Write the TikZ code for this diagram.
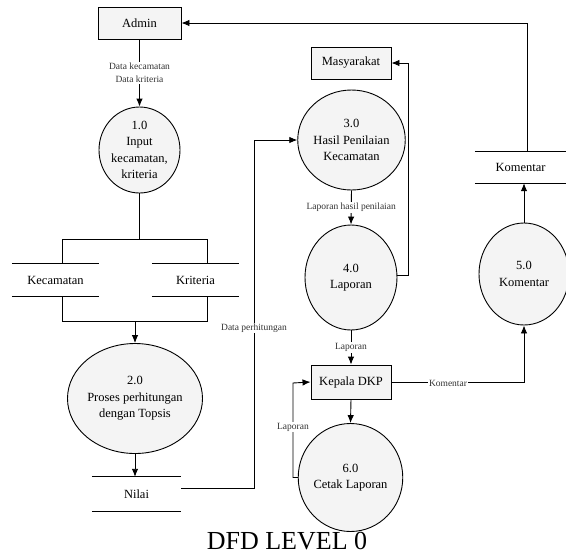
\documentclass[tikz,border=0pt]{standalone}
\usepackage{fontspec}
\setmainfont{Liberation Serif}
\usetikzlibrary{shapes.geometric,arrows.meta}
\begin{document}
\begin{tikzpicture}[x=1pt,y=-1pt,
  every node/.style={inner sep=0pt, font=\fontsize{12.5}{16.5}\selectfont, align=center},
  ent/.style={draw, line width=0.9pt, fill=gray!9, rectangle},
  proc/.style={draw, line width=0.9pt, fill=gray!9, ellipse},
  store/.style={rectangle, minimum height=32pt},
  flow/.style={line width=0.9pt, -{Latex[length=8pt,width=6.5pt]}},
  plain/.style={line width=0.9pt},
  lbl/.style={fill=white, inner sep=1pt, font=\fontsize{9.5}{12}\selectfont, text=black!80}]
\useasboundingbox (0,0) rectangle (566,558);
% entities
\node[ent, minimum width=83pt, minimum height=32pt] (admin) at (139.5,23) {Admin};
\node[ent, minimum width=80pt, minimum height=32pt] (mas) at (351,63) {Masyarakat};
\node[ent, minimum width=80pt, minimum height=34pt] (kep) at (351,382) {Kepala DKP};
% processes
\node[proc, minimum width=81pt, minimum height=86pt] (c1) at (139.5,150) {1.0\\Input\\kecamatan,\\kriteria};
\node[proc, minimum width=98pt, minimum height=110pt] (c2) at (135,398.5) {2.0\\Proses perhitungan\\dengan Topsis};
\node[proc, minimum width=91pt, minimum height=100pt] (c3) at (351.5,140) {3.0\\Hasil Penilaian\\Kecamatan};
\node[proc, minimum width=92pt, minimum height=105pt] (c4) at (351,277.5) {4.0\\Laporan};
\node[proc, minimum width=90pt, minimum height=102pt] (c5) at (524,274) {5.0\\Komentar};
\node[proc, minimum width=89pt, minimum height=108pt] (c6) at (350.5,477.5) {6.0\\Cetak Laporan};
% stores
\node[store, minimum width=87pt] (kec) at (55.5,280) {Kecamatan};
\node[store, minimum width=87pt] (kri) at (195.5,280) {Kriteria};
\node[store, minimum width=89pt, minimum height=34pt] (nil) at (136.5,494) {Nilai};
\node[store, minimum width=91pt, minimum height=31pt] (kom) at (520.5,167.5) {Komentar};
\foreach \s in {kec,kri,nil,kom}{
  \draw[plain] (\s.north west) -- (\s.north east) (\s.south west) -- (\s.south east);
}
% title
\node[font=\fontsize{26}{30}\selectfont] (title) at (287,541) {DFD LEVEL 0};
% flows
\draw[flow] (admin.south) -- node[lbl, pos=0.5, font=\fontsize{9.5}{13}\selectfont] {Data kecamatan\\Data kriteria} (c1.north);
\draw[plain] (c1.south) -- ++(0,46) coordinate (j1);
\draw[plain] ([xshift=7pt]kec.north) |- (j1) -| ([xshift=11.5pt]kri.north);
\draw[plain] ([xshift=7pt]kec.south) -- ++(0,25) coordinate (j2) -| ([xshift=11.5pt]kri.south);
\draw[flow] (j2 -| c2.north) -- (c2.north);
\draw[flow] (c2.south) -- (c2.south |- nil.north);
\draw[flow] ([yshift=6pt]nil.east) -| coordinate[pos=0.5] (cor) (254,140) -- (c3.west);
\node[lbl] (ldp) at (254,328) {Data perhitungan};
\draw[flow] (c3.south) -- node[lbl, pos=0.5] {Laporan hasil penilaian} (c4.north);
\draw[flow] ([yshift=2pt]c4.east) -| (408,63) -- (mas.east);
\draw[flow] (c4.south) -- node[lbl, pos=0.5] {Laporan} (kep.north);
\draw[flow] (kep.south) -- (c6.north);
\draw[flow] (c6.west) -| (293,383) -- (kep.west);
\node[lbl] (llap) at (293,427) {Laporan};
\draw[flow] (kep.east) -| (c5.south);
\node[lbl] (lkom) at (448,383) {Komentar};
\draw[flow] (c5.north) -- (c5.north |- kom.south);
\draw[flow] ([xshift=6.5pt]kom.north) |- (admin.east);
\end{tikzpicture}
\end{document}
